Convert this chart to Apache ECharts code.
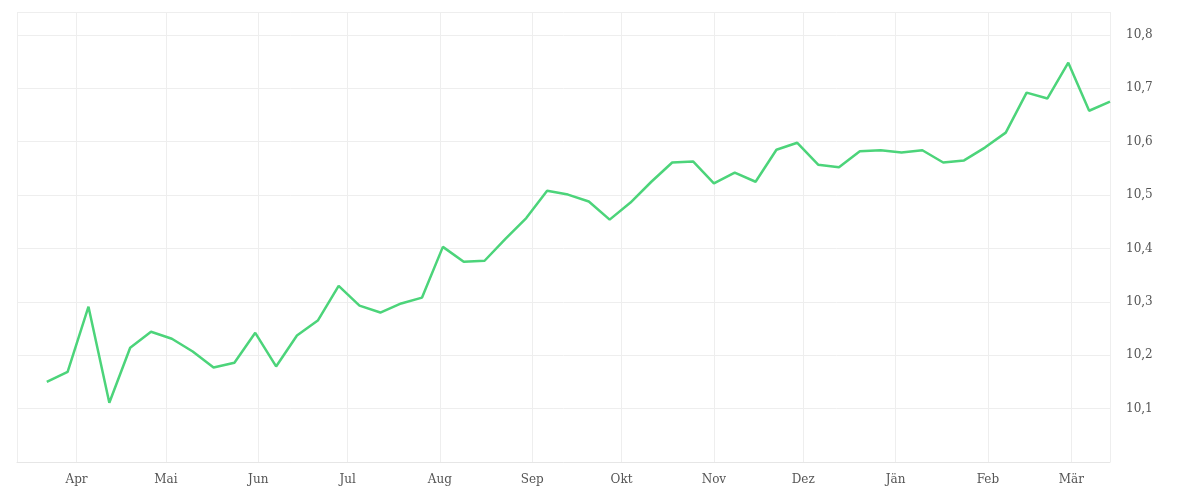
<!DOCTYPE html><html><head><meta charset="utf-8"><script src="https://cdn.jsdelivr.net/npm/echarts@6/dist/echarts.min.js"></script>
<style>body{margin:0}#c{width:1200px;height:500px}</style></head><body><div id="c"></div><script>
const startDate='2022-03-22';
const values=[10.150,10.169,10.291,10.111,10.214,10.244,10.231,10.207,10.177,10.186,10.242,10.179,10.237,10.265,10.330,10.293,10.280,10.297,10.308,10.403,10.375,10.377,10.418,10.457,10.508,10.501,10.488,10.454,10.486,10.525,10.561,10.563,10.522,10.542,10.525,10.585,10.598,10.557,10.552,10.582,10.584,10.580,10.584,10.561,10.565,10.589,10.617,10.692,10.681,10.748,10.658,10.675];
const monthNames=['Jän','Feb','Mär','Apr','Mai','Jun','Jul','Aug','Sep','Okt','Nov','Dez'];
const t0=Date.parse(startDate+'T00:00:00Z');
const data=values.map((v,i)=>[t0+i*7*864e5,v]);
const c=echarts.init(document.getElementById('c'));
c.setOption({animation:false,
grid:{left:17,right:90,top:12,bottom:38},
xAxis:{type:'time',min:Date.parse('2022-03-12T00:00:00Z'),max:Date.parse('2023-03-14T00:00:00Z'),
 minInterval:28*864e5,splitNumber:12,axisLine:{lineStyle:{color:'#e6e6e6'}},axisTick:{show:false},
 splitLine:{show:true,lineStyle:{color:'#eeeeee'}},
 axisLabel:{color:'#555',fontFamily:'DejaVu Serif',fontSize:12,margin:12,formatter:v=>monthNames[new Date(v).getUTCMonth()]}},
yAxis:{type:'value',position:'right',min:10,max:10.843,interval:0.1,axisLine:{show:false},axisTick:{show:false},
 splitLine:{lineStyle:{color:'#eeeeee'}},
 axisLabel:{color:'#555',fontFamily:'DejaVu Serif',fontSize:12,margin:16,
  formatter:v=>(v<10.05||Math.abs(v*10-Math.round(v*10))>1e-6)?'':v.toFixed(1).replace('.',',')}},
series:[{type:'line',data:data,showSymbol:false,lineStyle:{color:'#4cd47a',width:2.5},itemStyle:{color:'#4cd47a'}}]});
</script></body></html>
